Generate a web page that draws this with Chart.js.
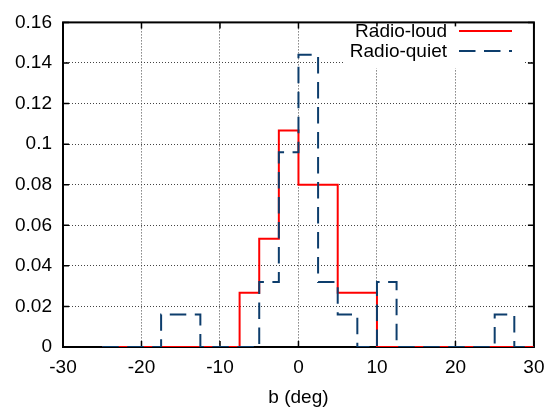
<!DOCTYPE html>
<html>
<head>
<meta charset="utf-8">
<script src="https://cdn.jsdelivr.net/npm/chart.js@4/dist/chart.umd.min.js"></script>
<style>
  html, body { margin: 0; padding: 0; background: #fff; }
  canvas { display: block; }
</style>
</head>
<body>
<canvas id="histChart" width="554" height="413"></canvas>
<script>
// bin edges (deg) and normalised counts per bin
const binEdges = [-25, -22.5, -20, -17.5, -15, -12.5, -10, -7.5, -5, -2.5, 0, 2.5, 5, 7.5, 10, 12.5, 15, 17.5, 20, 22.5, 25, 27.5, 30];
const radioLoud = [0, 0, 0, 0, 0, 0, 0, 0.0267, 0.0533, 0.1067, 0.08, 0.08, 0.0267, 0.0267, 0, 0, 0, 0, 0, 0, 0, 0];
const radioQuiet = [0, 0, 0, 0.016, 0.016, 0, 0, 0, 0.032, 0.096, 0.144, 0.032, 0.016, 0, 0.032, 0, 0, 0, 0, 0, 0.016, 0];
const seriesNames = ['Radio-loud', 'Radio-quiet'];
const yTickLabels = ['0', '0.02', '0.04', '0.06', '0.08', '0.1', '0.12', '0.14', '0.16'];
const xTickLabels = ['-30', '-20', '-10', '0', '10', '20', '30'];

const FONT = 'Helvetica, "Liberation Sans", Arial, sans-serif';

// step points: each bin value starts at its left edge, last edge closes the bin
function toSteps(values) {
    return binEdges.map((x, i) => ({ x: x, y: values[Math.min(i, values.length - 1)] }));
}

// frame + inward tick marks like gnuplot
const framePlugin = {
    id: 'frame',
    beforeDatasetsDraw(chart) {
        const { ctx, chartArea: a, scales } = chart;
        ctx.save();
        ctx.strokeStyle = '#000';
        ctx.lineWidth = 1.5;
        const len = 6;
        ctx.beginPath();
        scales.x.ticks.forEach(t => {
            const px = scales.x.getPixelForValue(t.value);
            ctx.moveTo(px, a.bottom); ctx.lineTo(px, a.bottom - len);
            ctx.moveTo(px, a.top); ctx.lineTo(px, a.top + len);
        });
        scales.y.ticks.forEach(t => {
            const py = scales.y.getPixelForValue(t.value);
            ctx.moveTo(a.left, py); ctx.lineTo(a.left + len, py);
            ctx.moveTo(a.right, py); ctx.lineTo(a.right - len, py);
        });
        ctx.stroke();

        // legend box (white, hides grid)
        ctx.fillStyle = '#fff';
        ctx.fillRect(343, a.top + 4, 182, 42);

        ctx.lineWidth = 2;
        ctx.strokeRect(a.left, a.top, a.right - a.left, a.bottom - a.top);
        ctx.restore();
    },
    afterDatasetsDraw(chart) {
        const { ctx } = chart;
        ctx.save();
        ctx.font = '19px ' + FONT;
        ctx.textAlign = 'right';
        ctx.textBaseline = 'middle';
        chart.data.datasets.forEach((ds, i) => {
            const y = 31 + i * 20;
            ctx.fillStyle = '#000';
            ctx.fillText(ds.label, 447, y + 1);
            ctx.strokeStyle = ds.borderColor;
            ctx.lineWidth = ds.borderWidth;
            ctx.setLineDash(ds.borderDash || []);
            ctx.beginPath();
            ctx.moveTo(459, y);
            ctx.lineTo(512, y);
            ctx.stroke();
        });
        ctx.restore();
    }
};

new Chart(document.getElementById('histChart').getContext('2d'), {
    type: 'line',
    data: {
        datasets: [
            {
                label: seriesNames[0],
                data: toSteps(radioLoud),
                borderColor: '#ff0000',
                borderWidth: 2,
                stepped: 'before',
                pointRadius: 0,
                fill: false,
                order: 1
            },
            {
                label: seriesNames[1],
                data: toSteps(radioQuiet),
                borderColor: '#0d3d6c',
                borderWidth: 2,
                borderDash: [16.5, 8.5],
                stepped: 'before',
                pointRadius: 0,
                fill: false,
                order: 0
            }
        ]
    },
    options: {
        responsive: false,
        animation: false,
        layout: { padding: { left: 0, top: 15.5, right: 17, bottom: 0 } },
        plugins: {
            legend: { display: false },
            tooltip: { enabled: false }
        },
        scales: {
            x: {
                type: 'linear',
                min: -30,
                max: 30,
                afterFit: s => { s.height = 66; },
                ticks: {
                    stepSize: 10,
                    padding: 9.5,
                    color: '#000',
                    font: { family: FONT, size: 19 },
                    callback: (v, i) => xTickLabels[i]
                },
                grid: { color: '#444', lineWidth: 1, drawTicks: false },
                border: { display: false, dash: [1, 2] },
                title: {
                    display: true,
                    text: 'b (deg)',
                    color: '#000',
                    font: { family: FONT, size: 19 },
                    padding: { top: 0, bottom: 3.6 }
                }
            },
            y: {
                type: 'linear',
                min: 0,
                max: 0.16,
                afterFit: s => { s.width = 63; },
                ticks: {
                    stepSize: 0.02,
                    padding: 11,
                    color: '#000',
                    font: { family: FONT, size: 19 },
                    callback: (v, i) => yTickLabels[i]
                },
                grid: { color: '#444', lineWidth: 1, drawTicks: false },
                border: { display: false, dash: [1, 2] }
            }
        }
    },
    plugins: [framePlugin]
});
</script>
</body>
</html>
